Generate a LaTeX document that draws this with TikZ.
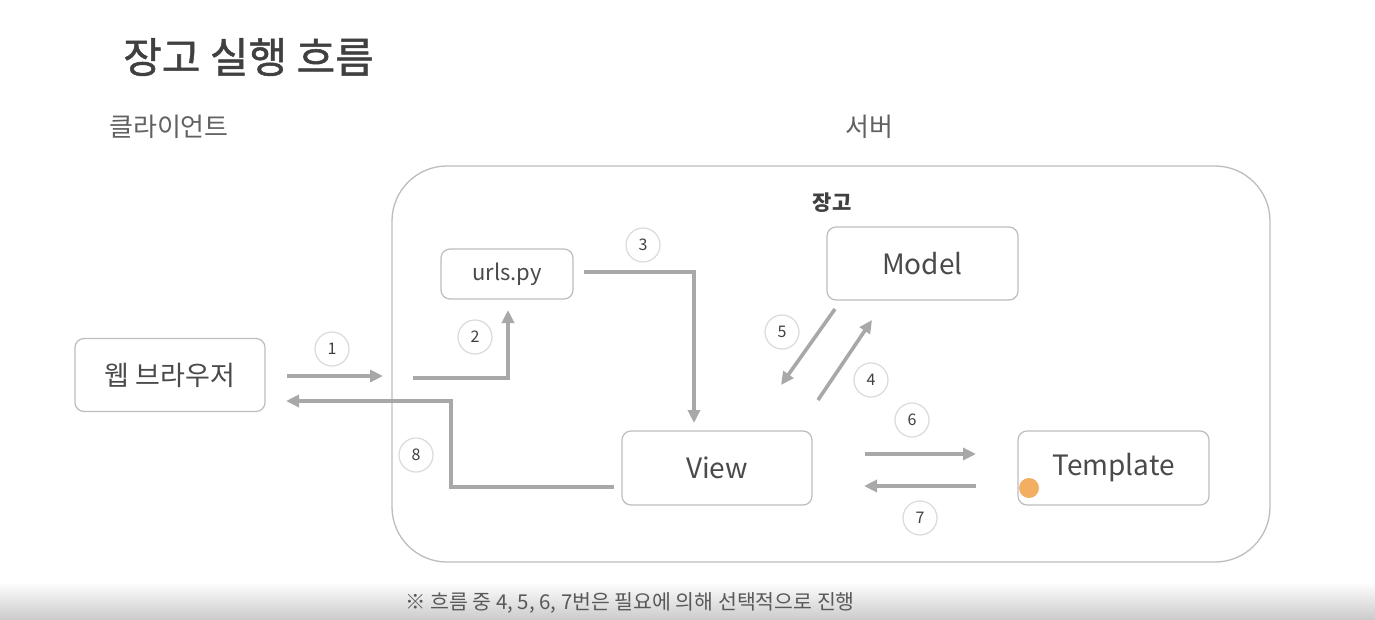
\documentclass[tikz,border=0pt]{standalone}
\usepackage{fontspec}
\setmainfont{Noto Sans CJK KR}
\newfontfamily\krmed{Noto Sans CJK KR}[FakeBold=1.2]
\usetikzlibrary{arrows.meta}
\definecolor{arrowgray}{HTML}{A8A8A8}
\definecolor{boxgray}{HTML}{BDBDBD}
\definecolor{txtgray}{HTML}{4A4A4A}
\definecolor{circgray}{HTML}{DADADA}
\definecolor{cursor}{HTML}{F4AE62}
\tikzset{
  flow/.style={draw=arrowgray, line width=3.6pt, -{Triangle[length=13pt,width=12pt]}},
  box/.style={draw=boxgray, line width=1.2pt, rounded corners=9pt, text=txtgray, inner sep=0pt},
  num/.style={circle, draw=circgray, line width=1.2pt, minimum size=34pt, inner sep=0pt, text=black!75, font=\fontsize{16}{16}\selectfont},
  lbl/.style={text=txtgray, inner sep=0pt}
}
\begin{document}
\begin{tikzpicture}[x=1pt,y=-1pt]
\useasboundingbox (0,0) rectangle (1375,619);
\fill[white] (0,0) rectangle (1375,619);
\shade[top color=white, bottom color=black!20] (0,582) rectangle (1375,619);
% titles
\node[lbl, text=black!75, anchor=west, font=\fontsize{42}{42}\krmed] (title) at (123,57) {장고 실행 흐름};
\node[lbl, text=black!62, anchor=west, font=\fontsize{26}{26}\selectfont] (client) at (109,127) {클라이언트};
\node[lbl, text=black!62, font=\fontsize{26}{26}\selectfont] (server) at (869,127) {서버};
% server frame
\draw[draw=boxgray, line width=1.3pt, rounded corners=55pt] (392,166) rectangle (1270,562);
\node[lbl, text=black!75, font=\fontsize{21}{21}\selectfont\bfseries] (django) at (832,203) {장고};
% boxes
\node[box, minimum width=190pt, minimum height=73pt, font=\fontsize{27}{27}\selectfont] (browser) at (170,375) {웹 브라우저};
\node[box, minimum width=132pt, minimum height=50pt, font=\fontsize{22}{22}\selectfont] (urls) at (507,274) {urls.py};
\node[box, minimum width=191pt, minimum height=73pt, font=\fontsize{28}{28}\selectfont] (model) at (922.5,263.5) {Model};
\node[box, minimum width=190pt, minimum height=74pt, font=\fontsize{28}{28}\selectfont] (view) at (717,468) {View};
\node[box, minimum width=191pt, minimum height=74pt, font=\fontsize{28}{28}\selectfont] (template) at (1113.5,468) {Template};
% connector end points
\coordinate (a1s) at (287,376); \coordinate (a1e) at (383,376);
\coordinate (a2s) at (413,378); \coordinate (a2m) at (508,378); \coordinate (a2e) at (508,310);
\coordinate (a3s) at (584,272); \coordinate (a3m) at (694,272); \coordinate (a3e) at (694,423);
\coordinate (a5s) at (835,309); \coordinate (a5e) at (781,385);
\coordinate (a4s) at (818,400); \coordinate (a4e) at (872,320);
\coordinate (a6s) at (865,454); \coordinate (a6e) at (976,454);
\coordinate (a7s) at (976,486); \coordinate (a7e) at (864,486);
\coordinate (a8s) at (614,487); \coordinate (a8m) at (451,487); \coordinate (a8n) at (451,401); \coordinate (a8e) at (286,401);
% arrows
\draw[flow] (a1s) -- (a1e);
\draw[flow] (a2s) -- (a2m) -- (a2e);
\draw[flow] (a3s) -- (a3m) -- (a3e);
\draw[flow] (a5s) -- (a5e);
\draw[flow] (a4s) -- (a4e);
\draw[flow] (a6s) -- (a6e);
\draw[flow] (a7s) -- (a7e);
\draw[flow] (a8s) -- (a8m) -- (a8n) -- (a8e);
% numbers
\node[num] (n1) at (332,349) {1};
\node[num] (n2) at (475,337) {2};
\node[num] (n3) at (643,245) {3};
\node[num] (n5) at (782,332) {5};
\node[num] (n4) at (871,380) {4};
\node[num] (n6) at (912,420) {6};
\node[num] (n7) at (920,518) {7};
\node[num] (n8) at (416,455) {8};
% footnote
\node[lbl, text=black!65, anchor=west, font=\fontsize{20.5}{20.5}\selectfont] (note) at (405,603) {※ 흐름 중 4, 5, 6, 7번은 필요에 의해 선택적으로 진행};
% cursor highlight
\fill[cursor] (1029,488) circle (10pt);
\end{tikzpicture}
\end{document}
